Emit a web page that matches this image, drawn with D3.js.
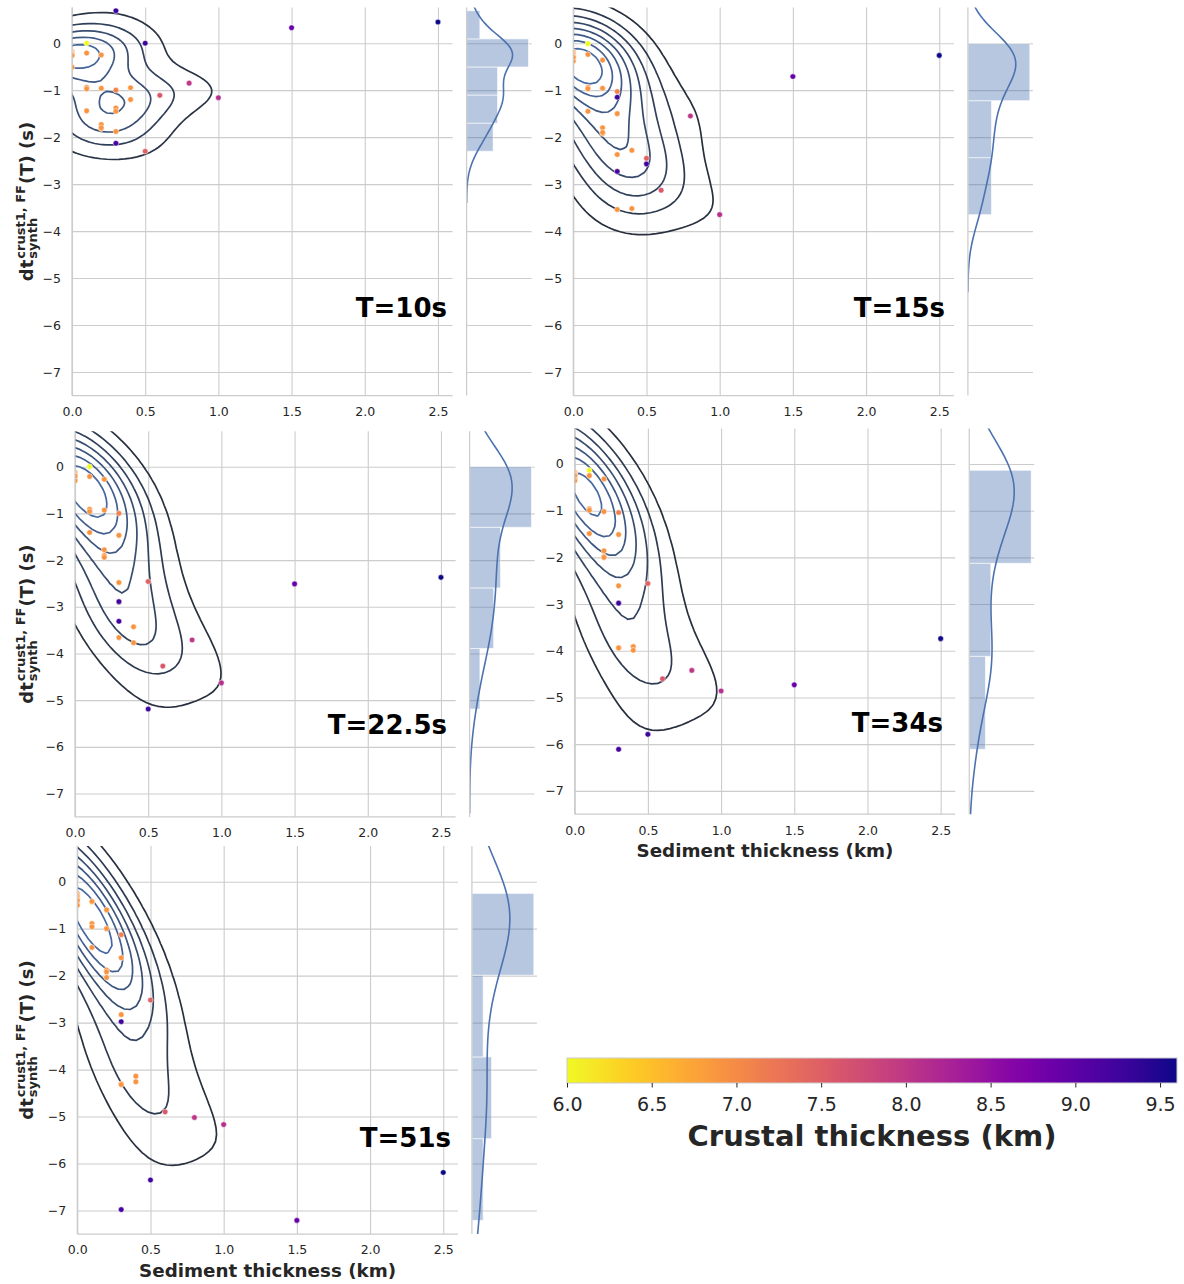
<!DOCTYPE html>
<html><head><meta charset="utf-8">
<script src="https://cdn.jsdelivr.net/npm/d3@7"></script>
<style>body{margin:0;background:#fff} text{font-family:"DejaVu Sans",sans-serif}</style>
</head><body>
<svg id="fig" width="1184" height="1284" xmlns="http://www.w3.org/2000/svg"></svg>
<script>
// ---------------- DATA ----------------
const periodLabels = ["T=10s", "T=15s", "T=22.5s", "T=34s", "T=51s"];
// sediment thickness (km) per station
const sediment = [0,0,0,0,0,0,0,0,0,0, 0,0.3,
  0.1,0.1,0.2,0.1,0.1,0.2,0.3,0.1,0.3,0.2,0.2,0.2,0.3,0.3,0.4,0.4,0.3,0.3,0.5,0.5,0.6,0.8,1.0,1.5,2.5];
// crustal thickness (km) per station
const crust = [6.9,6.9,6.9,6.9,6.9,6.9,6.9,6.9,6.9,6.9, 6.9,6.9,
  6.0,6.9,6.9,6.9,6.9,6.9,7.1,6.9,6.9,6.9,6.9,6.9,6.9,6.9,6.9,6.9,9.25,9.2,9.25,7.45,7.6,8.0,8.1,8.9,9.6];
// dt_synth^{crust1,FF}(T) (s) per period
const dt10 = [-0.18,-0.2,-0.2,-0.21,-0.22,-0.22,-0.23,-0.24,-0.25,-0.26, -0.51,-1.39,
  0.0,-0.21,-0.25,-0.94,-0.97,-0.96,-1.0,-1.44,-1.38,-1.73,-1.82,-1.80,-1.45,-1.88,-0.95,-1.2,0.69,-2.13,0.0,-2.3,-1.11,-0.85,-1.16,0.33,0.45];
const dt15 = [-0.18,-0.2,-0.22,-0.24,-0.26,-0.28,-0.3,-0.32,-0.34,-0.38, -0.3,-2.72,
  -0.01,-0.24,-0.36,-0.94,-0.97,-0.96,-1.03,-1.45,-1.5,-1.8,-1.92,-1.9,-2.37,-3.54,-2.28,-3.52,-1.15,-2.73,-2.57,-2.45,-3.13,-1.55,-3.65,-0.71,-0.26];
const dt22_5 = [-0.12,-0.14,-0.16,-0.18,-0.2,-0.22,-0.24,-0.26,-0.28,-0.3, -0.2,-2.9,
  0.0,-0.21,-0.27,-0.91,-0.96,-0.93,-1.0,-1.41,-1.47,-1.78,-1.9,-1.94,-2.48,-3.66,-3.43,-3.77,-2.89,-3.31,-5.19,-2.46,-4.27,-3.71,-4.63,-2.51,-2.37];
const dt34 = [-0.18,-0.2,-0.22,-0.24,-0.26,-0.28,-0.3,-0.32,-0.34,-0.36, -0.25,-3.93,
  -0.135,-0.25,-0.32,-0.96,-0.99,-1.02,-1.04,-1.49,-1.51,-1.86,-1.98,-2.0,-2.61,-3.94,-3.91,-3.99,-2.98,-6.11,-5.79,-2.56,-4.6,-4.42,-4.86,-4.73,-3.74];
const dt51 = [-0.25,-0.28,-0.3,-0.33,-0.36,-0.39,-0.42,-0.45,-0.48,-0.5, -0.4,-4.3,
  -0.43,-0.42,-0.6,-0.89,-0.96,-1.0,-1.13,-1.4,-1.62,-1.88,-1.92,-2.04,-2.83,-4.32,-4.14,-4.26,-2.98,-6.98,-6.35,-2.52,-4.9,-5.02,-5.17,-7.21,-6.19];
const dtSeries = [dt10, dt15, dt22_5, dt34, dt51];
const histBins = [5, 3, 4, 3, 4];
const xTicks = [0, 0.5, 1.0, 1.5, 2.0, 2.5];
const yTicks = [0, -1, -2, -3, -4, -5, -6, -7];
const cbTicks = [6.0, 6.5, 7.0, 7.5, 8.0, 8.5, 9.0, 9.5];

// ---------------- LAYOUT ----------------
const xDomain = [0, 2.6], yDomain = [-7.5, 0.76];
const mainW = 380.6, margGap = 14, margW = 65;
const panels = [
  {left: 72,    top: 7.5,   h: 388,   ylab: true,  xlab: false, tx: 447, ty: 317},
  {left: 573.3, top: 7.5,   h: 388,   ylab: false, xlab: false, tx: 945, ty: 317},
  {left: 75,    top: 431.2, h: 385.7, ylab: true,  xlab: false, tx: 447, ty: 734},
  {left: 574.7, top: 428.5, h: 385.7, ylab: false, xlab: true,  tx: 943, ty: 732},
  {left: 77.3,  top: 846,   h: 388,   ylab: true,  xlab: true,  tx: 451, ty: 1147}
];
const BLUE = "#4c72b0", DARK = "#23272f", GRID = "#cccccc", TXT = "#262626";

const svg = d3.select("#fig");
svg.append("rect").attr("width", 1184).attr("height", 1284).attr("fill", "#fff");
const defs = svg.append("defs");

const color = d3.scaleSequential(t => d3.interpolatePlasma(1 - t)).domain(d3.extent(crust));

function maxNLocator(vmin, vmax, nbins) {
  const steps = [1, 2, 2.5, 5, 10];
  const raw = (vmax - vmin) / nbins;
  const scale = Math.pow(10, Math.floor(Math.log10(raw)));
  for (const s of steps) {
    const step = s * scale;
    if (step < raw * (1 - 1e-9)) continue;
    const lo = Math.floor(vmin / step + 1e-9) * step;
    const hi = Math.ceil(vmax / step - 1e-9) * step;
    const nint = Math.round((hi - lo) / step);
    if (nint <= nbins) return d3.range(nint + 1).map(k => lo + k * step);
  }
  return d3.ticks(vmin, vmax, nbins);
}

panels.forEach((P, pi) => {
  const ys = dtSeries[pi];
  const xs = sediment;
  const n = ys.length;
  const x = d3.scaleLinear().domain(xDomain).range([P.left, P.left + mainW]);
  const y = d3.scaleLinear().domain(yDomain).range([P.top + P.h, P.top]);
  const bottom = P.top + P.h;
  const g = svg.append("g");

  const clipId = "clip" + pi;
  defs.append("clipPath").attr("id", clipId).append("rect")
    .attr("x", P.left).attr("y", P.top).attr("width", mainW).attr("height", P.h);

  // grid
  const gx = g.append("g").attr("transform", `translate(0,${bottom})`)
    .call(d3.axisBottom(x).tickValues(xTicks).tickSize(-P.h).tickFormat(""));
  const gy = g.append("g").attr("transform", `translate(${P.left},0)`)
    .call(d3.axisLeft(y).tickValues(yTicks).tickSize(-mainW).tickFormat(""));
  [gx, gy].forEach(a => { a.select(".domain").remove(); a.selectAll("line").attr("stroke", GRID).attr("stroke-width", 1.1); });

  // bivariate gaussian KDE (full covariance, Scott factor)
  const mxv = d3.mean(xs), myv = d3.mean(ys);
  let sxx = 0, syy = 0, sxy = 0;
  for (let k = 0; k < n; k++) { const a = xs[k] - mxv, b = ys[k] - myv; sxx += a * a; syy += b * b; sxy += a * b; }
  sxx /= (n - 1); syy /= (n - 1); sxy /= (n - 1);
  const fac = Math.pow(n, -1 / 6);
  const cxx = sxx * fac * fac, cyy = syy * fac * fac, cxy = sxy * fac * fac;
  const det = cxx * cyy - cxy * cxy;
  const ixx = cyy / det, iyy = cxx / det, ixy = -cxy / det;
  const bx = fac * Math.sqrt(sxx), by = fac * Math.sqrt(syy);
  const N = 100;
  const x0 = d3.min(xs) - 3 * bx, x1 = d3.max(xs) + 3 * bx;
  const y0 = d3.min(ys) - 3 * by, y1 = d3.max(ys) + 3 * by;
  const dx = (x1 - x0) / (N - 1), dy = (y1 - y0) / (N - 1);
  const vals = new Array(N * N);
  const norm = 1 / (n * 2 * Math.PI * Math.sqrt(det));
  for (let j = 0; j < N; j++) {
    const gyv = y0 + j * dy;
    for (let i = 0; i < N; i++) {
      const gxv = x0 + i * dx;
      let s = 0;
      for (let k = 0; k < n; k++) {
        const u = gxv - xs[k], v = gyv - ys[k];
        s += Math.exp(-0.5 * (u * u * ixx + 2 * u * v * ixy + v * v * iyy));
      }
      vals[j * N + i] = s * norm;
    }
  }
  const [zmin, zmax] = d3.extent(vals);
  const levels = maxNLocator(zmin, zmax, 11);
  const drawn = levels.filter(l => l > zmin && l < zmax);
  const lc = d3.interpolateRgb(DARK, BLUE);
  const L0 = levels[0], L1 = levels[levels.length - 1];
  const proj = d3.geoTransform({point: function(px, py) {
    this.stream.point(x(x0 + (px - 0.5) * dx), y(y0 + (py - 0.5) * dy));
  }});
  const path = d3.geoPath(proj);
  const conts = d3.contours().size([N, N]).thresholds(drawn)(vals);
  g.append("g").attr("clip-path", `url(#${clipId})`).selectAll("path").data(conts).join("path")
    .attr("d", path).attr("fill", "none")
    .attr("stroke", d => lc((d.value - L0) / (L1 - L0))).attr("stroke-width", 1.7);

  // scatter
  g.append("g").attr("clip-path", `url(#${clipId})`).selectAll("circle").data(d3.range(n)).join("circle")
    .attr("cx", i => x(sediment[i])).attr("cy", i => y(ys[i])).attr("r", 2.8)
    .attr("fill", i => color(crust[i])).attr("stroke", "#fff").attr("stroke-width", 0.5);

  // spines
  g.append("line").attr("x1", P.left).attr("x2", P.left).attr("y1", P.top).attr("y2", bottom)
    .attr("stroke", GRID).attr("stroke-width", 1.25);
  g.append("line").attr("x1", P.left).attr("x2", P.left + mainW).attr("y1", bottom).attr("y2", bottom)
    .attr("stroke", GRID).attr("stroke-width", 1.25);

  // tick labels
  const ax = g.append("g").attr("transform", `translate(0,${bottom})`)
    .call(d3.axisBottom(x).tickValues(xTicks).tickFormat(d3.format(".1f")).tickSize(0).tickPadding(11.5));
  const ay = g.append("g").attr("transform", `translate(${P.left},0)`)
    .call(d3.axisLeft(y).tickValues(yTicks).tickFormat(d3.format("d")).tickSize(0).tickPadding(11));
  [ax, ay].forEach(a => {
    a.select(".domain").remove();
    a.attr("font-family", null).attr("font-size", null);
    a.selectAll("text").attr("font-size", 12.5).attr("fill", TXT).attr("font-family", "DejaVu Sans");
  });

  // period label
  g.append("text").attr("x", P.tx).attr("y", P.ty).attr("text-anchor", "end")
    .attr("font-size", 26).attr("font-weight", "bold").attr("fill", "#000").text(periodLabels[pi]);

  if (P.xlab) {
    g.append("text").attr("x", P.left + mainW / 2).attr("y", bottom + 43).attr("text-anchor", "middle")
      .attr("font-size", 18.3).attr("font-weight", "bold").attr("fill", TXT).text("Sediment thickness (km)");
  }
  if (P.ylab) {
    const outer = g.append("g").attr("transform", `translate(33,${P.top + P.h / 2}) rotate(-90)`);
    const inner = outer.append("g").attr("font-weight", "bold").attr("fill", TXT);
    const t1 = inner.append("text").attr("x", 0).attr("y", 0).attr("font-size", 18).text("dt");
    const w1 = t1.node().getComputedTextLength() + 1;
    const sup = inner.append("text").attr("x", w1).attr("y", -8).attr("font-size", 13).text("crust1, FF");
    const sub = inner.append("text").attr("x", w1).attr("y", 3.5).attr("font-size", 13).text("synth");
    const w2 = Math.max(sup.node().getComputedTextLength(), sub.node().getComputedTextLength()) + 1;
    const t2 = inner.append("text").attr("x", w1 + w2).attr("y", 0).attr("font-size", 18).text("(T) (s)");
    const tot = w1 + w2 + t2.node().getComputedTextLength();
    inner.attr("transform", `translate(${-tot / 2},0)`);
  }

  // ---------- marginal ----------
  const mL = P.left + mainW + margGap;
  const mClip = "mclip" + pi;
  defs.append("clipPath").attr("id", mClip).append("rect")
    .attr("x", mL).attr("y", P.top).attr("width", margW).attr("height", P.h);
  const [mn, mx] = d3.extent(ys);
  const k = histBins[pi];
  const bw = (mx - mn) / k;
  const bins = d3.bin().domain([mn, mx]).thresholds(d3.range(1, k).map(i => mn + i * bw))(ys);
  const dens = bins.map(b => b.length / (n * bw));
  const h1 = d3.deviation(ys) * Math.pow(n, -0.2);
  const ky = d3.range(100).map(i => (mn - 3 * h1) + i * ((mx - mn + 6 * h1) / 99));
  const kd = ky.map(v => d3.sum(ys, d => Math.exp(-0.5 * ((v - d) / h1) ** 2)) / (n * h1 * Math.sqrt(2 * Math.PI)));
  const xm = d3.scaleLinear().domain([0, 1.05 * Math.max(d3.max(dens), d3.max(kd))]).range([mL, mL + margW]);

  const mg = svg.append("g");
  const mgy = mg.append("g").attr("transform", `translate(${mL},0)`)
    .call(d3.axisLeft(y).tickValues(yTicks).tickSize(-margW).tickFormat(""));
  mgy.select(".domain").remove();
  mgy.selectAll("line").attr("stroke", GRID).attr("stroke-width", 1.1);

  mg.append("g").attr("clip-path", `url(#${mClip})`).selectAll("rect").data(bins).join("rect")
    .attr("x", mL).attr("width", (b, i) => xm(dens[i]) - mL)
    .attr("y", b => y(b.x1)).attr("height", b => y(b.x0) - y(b.x1))
    .attr("fill", BLUE).attr("fill-opacity", 0.4).attr("stroke", "#fff").attr("stroke-opacity", 0.6).attr("stroke-width", 1);

  mg.append("path").attr("clip-path", `url(#${mClip})`)
    .datum(d3.range(ky.length))
    .attr("d", d3.line().x(i => xm(kd[i])).y(i => y(ky[i])))
    .attr("fill", "none").attr("stroke", BLUE).attr("stroke-width", 1.6);

  mg.append("line").attr("x1", mL).attr("x2", mL).attr("y1", P.top).attr("y2", bottom)
    .attr("stroke", GRID).attr("stroke-width", 1.25);
});

// ---------------- COLORBAR ----------------
const cb = {x0: 567, x1: 1177, top: 1058, h: 25};
const cx = d3.scaleLinear().domain(color.domain()).range([cb.x0, cb.x1]);
const grad = defs.append("linearGradient").attr("id", "cbgrad").attr("x1", "0%").attr("x2", "100%");
const dom = color.domain();
d3.range(41).forEach(i => {
  const t = i / 40;
  grad.append("stop").attr("offset", (t * 100) + "%").attr("stop-color", color(dom[0] + t * (dom[1] - dom[0])));
});
svg.append("rect").attr("x", cb.x0).attr("y", cb.top).attr("width", cb.x1 - cb.x0).attr("height", cb.h)
  .attr("fill", "url(#cbgrad)").attr("stroke", "#cccccc").attr("stroke-width", 1);
const cax = svg.append("g").attr("transform", `translate(0,${cb.top + cb.h})`)
  .call(d3.axisBottom(cx).tickValues(cbTicks).tickFormat(d3.format(".1f")).tickSize(4.5).tickPadding(10));
cax.select(".domain").remove();
cax.attr("font-family", null).attr("font-size", null);
cax.selectAll("line").attr("stroke", TXT).attr("stroke-width", 1);
cax.selectAll("text").attr("font-size", 19).attr("fill", TXT).attr("font-family", "DejaVu Sans");
svg.append("text").attr("x", (cb.x0 + cb.x1) / 2).attr("y", 1146).attr("text-anchor", "middle")
  .attr("font-size", 29).attr("font-weight", "bold").attr("fill", TXT).text("Crustal thickness (km)");
</script>
</body></html>
